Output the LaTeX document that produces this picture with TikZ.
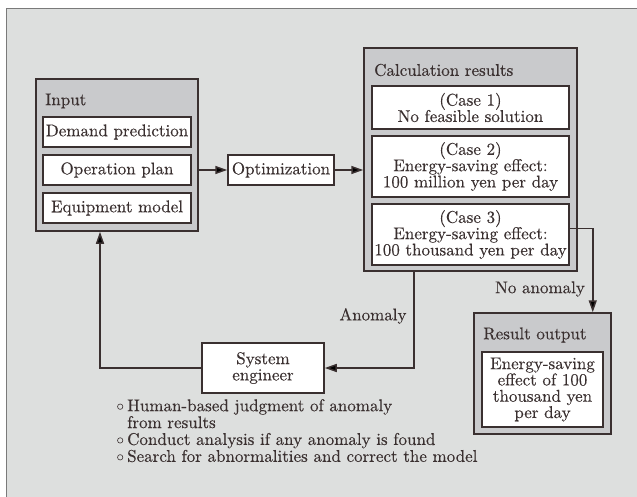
\documentclass[tikz,border=0pt]{standalone}
\usepackage{fontspec}
\setmainfont{lmroman10-regular.otf}[FakeBold=0.3]
\usetikzlibrary{arrows.meta}
\definecolor{pagebg}{HTML}{DDDFDE}
\definecolor{groupbg}{HTML}{C9CACC}
\definecolor{ink}{HTML}{3A3030}
\definecolor{frame}{HTML}{7A7A7A}
% hollow round list mark
\newcommand\openmark{\raisebox{1.5pt}{\tikz\draw[ink,line width=0.6pt] (0pt,0pt) circle[radius=2.7pt];}}
\begin{document}
\begin{tikzpicture}[x=1pt,y=-1pt,
  font=\fontsize{17}{16.3}\selectfont,
  every node/.style={text=ink},
  group/.style={draw=ink,line width=1.5pt,fill=groupbg,inner sep=0pt},
  item/.style={draw=ink,line width=1.5pt,fill=white,inner sep=0pt,align=center},
  caption/.style={anchor=west,inner sep=0pt},
  link/.style={draw=ink,line width=1.5pt},
  arrowlink/.style={link,-{Triangle[length=12pt,width=8pt]}}
]
\useasboundingbox (0,0) rectangle (637,497);
% page background
\draw[frame,line width=0.9pt,fill=pagebg] (6,8) rectangle (645,505);

% input group
\node[group,minimum width=162pt,minimum height=152pt] (input) at (117,155) {};
\node[caption] (inputlbl) at (45,101) {Input};
\node[item,minimum width=148pt,minimum height=30pt] (demand) at (117,132) {Demand prediction};
\node[item,minimum width=148pt,minimum height=30pt] (op) at (117,170) {Operation plan};
\node[item,minimum width=148pt,minimum height=30pt] (equip) at (117,208) {Equipment model};

% optimizer
\node[item,minimum width=106pt,minimum height=30pt] (opt) at (281,170) {Optimization};

% calculation results group
\node[group,minimum width=213pt,minimum height=223pt] (calc) at (470.5,159.5) {};
\node[caption] (calclbl) at (374,70) {Calculation results};
\node[item,minimum width=197pt,minimum height=43pt] (case1) at (470.5,107.5) {(Case 1)\\No feasible solution};
\node[item,minimum width=197pt,minimum height=61pt] (case2) at (470.5,166.5) {(Case 2)\\Energy-saving effect:\\100 million yen per day};
\node[item,minimum width=197pt,minimum height=61pt] (case3) at (470.5,234.5) {(Case 3)\\Energy-saving effect:\\100 thousand yen per day};

% result output group
\node[group,minimum width=137pt,minimum height=121pt] (result) at (542.5,373.5) {};
\node[caption] (resultlbl) at (483,335) {Result output};
\node[item,minimum width=121pt,minimum height=75pt] (resultval) at (542.5,389.5) {Energy-saving\\effect of 100\\thousand yen\\per day};

% engineer
\node[item,minimum width=122pt,minimum height=50pt] (eng) at (263,368) {System\\engineer};
\node[anchor=north west,inner sep=0pt,align=left] (notes) at (117,399) {%
  \begin{tabular}{@{}l@{\hspace{4pt}}l@{}}
  \openmark & Human-based judgment of anomaly\\
            & from results\\
  \openmark & Conduct analysis if any anomaly is found\\
  \openmark & Search for abnormalities and correct the model
  \end{tabular}};

% connectors
\draw[arrowlink] (op.east -| input.east) -- (opt.west);
\draw[arrowlink] (opt.east) -- (opt.east -| calc.west);
\draw[arrowlink] ([yshift=6pt]case3.east) -| ([xshift=-19pt]result.north east);
\draw[arrowlink] ([xshift=-56.5pt]calc.south) |- (eng.east);
\draw[arrowlink] (eng.west) -| ([xshift=-17pt]input.south);

\node (noanom) at (540,289) {No anomaly};
\node (anom) at (373,316) {Anomaly};
\end{tikzpicture}
\end{document}
